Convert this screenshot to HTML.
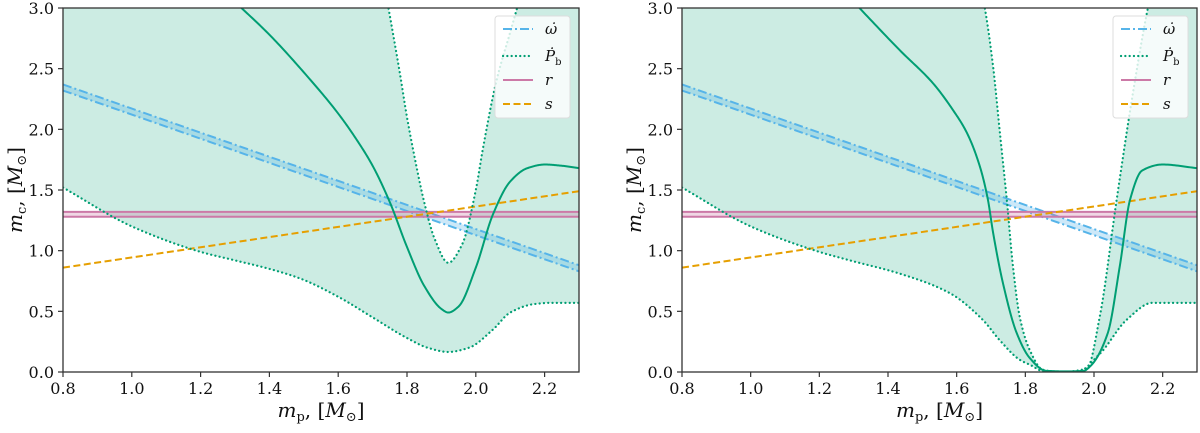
<!DOCTYPE html>
<html><head><meta charset="utf-8"><style>
html,body{margin:0;padding:0;background:#fff}
svg text{font-family:"DejaVu Serif","Liberation Serif",serif;fill:#111}
</style></head><body>
<svg id="chart" width="1200" height="428" xmlns="http://www.w3.org/2000/svg"></svg>
<script>
const xTicks=[0.8,1.0,1.2,1.4,1.6,1.8,2.0,2.2];
const yTicks=[0.0,0.5,1.0,1.5,2.0,2.5,3.0];
const omegaX=[0.8,2.3];
const omegaHi=[2.37,0.88];
const omegaLo=[2.32,0.83];
const rHi=1.32, rLo=1.28;
const sX=[0.8,2.3];
const sY=[0.86,1.49];
// left panel
const L_solidX=[1.30,1.4,1.5,1.6,1.65,1.7,1.75,1.8,1.85,1.9,1.92,1.95,2.0,2.05,2.1,2.15,2.2,2.25,2.3];
const L_solidY=[3.05,2.78,2.47,2.13,1.93,1.70,1.40,1.03,0.71,0.52,0.49,0.54,0.86,1.3,1.57,1.68,1.71,1.70,1.68];
const L_lowX=[0.8,1.0,1.2,1.3,1.4,1.49,1.6,1.7,1.8,1.86,1.92,1.98,2.05,2.1,2.17,2.22,2.3];
const L_lowY=[1.52,1.2,0.99,0.92,0.85,0.77,0.62,0.45,0.28,0.2,0.165,0.2,0.35,0.49,0.56,0.57,0.57];
const L_upX=[1.74,1.78,1.8,1.82,1.85,1.88,1.92,1.96,2.0,2.02,2.06,2.1,2.13];
const L_upY=[3.1,2.45,2.1,1.8,1.4,1.1,0.9,1.05,1.5,1.83,2.4,2.8,3.1];
// right panel
const R_solidX=[1.30,1.435,1.531,1.589,1.63,1.668,1.691,1.706,1.735,1.775,1.813,1.86,1.92,1.97,1.99,2.04,2.075,2.105,2.14,2.2,2.3];
const R_solidY=[3.05,2.65,2.38,2.16,1.97,1.69,1.42,1.15,0.73,0.32,0.115,0.01,0.005,0.01,0.05,0.32,0.87,1.42,1.66,1.71,1.68];
const R_lowX=[0.8,1.0,1.2,1.289,1.435,1.58,1.676,1.726,1.784,1.813,1.86,1.95,2.017,2.095,2.17,2.3];
const R_lowY=[1.52,1.2,0.99,0.92,0.81,0.65,0.43,0.26,0.1,0.06,0.0,0.0,0.15,0.43,0.57,0.57];
const R_upX=[1.675,1.682,1.706,1.726,1.746,1.764,1.784,1.813,1.85,1.9,1.98,2.017,2.066,2.11,2.157,2.165];
const R_upY=[3.1,3.0,2.52,1.97,1.42,0.87,0.45,0.18,0.02,0.0,0.03,0.46,1.42,2.24,3.0,3.1];

const NS="http://www.w3.org/2000/svg";
const svg=document.getElementById('chart');
function mk(tag,attrs,parent){const e=document.createElementNS(NS,tag);for(const k in attrs)e.setAttribute(k,attrs[k]);(parent||svg).appendChild(e);return e;}
function mono(xs,ys){
  const n=xs.length,d=[],m=new Array(n);
  for(let i=0;i<n-1;i++)d.push((ys[i+1]-ys[i])/(xs[i+1]-xs[i]));
  m[0]=d[0];m[n-1]=d[n-2];
  for(let i=1;i<n-1;i++){
    if(d[i-1]*d[i]<=0)m[i]=0;
    else{const w1=2*(xs[i+1]-xs[i])+(xs[i]-xs[i-1]),w2=(xs[i+1]-xs[i])+2*(xs[i]-xs[i-1]);m[i]=(w1+w2)/(w1/d[i-1]+w2/d[i]);}
  }
  const out=[];
  for(let i=0;i<n-1;i++){
    const h=xs[i+1]-xs[i];
    const steps=20;
    for(let s=(i?1:0);s<=steps;s++){
      const t=s/steps,t2=t*t,t3=t2*t;
      const y=(2*t3-3*t2+1)*ys[i]+(t3-2*t2+t)*h*m[i]+(-2*t3+3*t2)*ys[i+1]+(t3-t2)*h*m[i+1];
      out.push([xs[i]+t*h,y]);
    }
  }
  return out;
}
function pathOf(pts){return 'M'+pts.map(p=>p[0].toFixed(2)+','+p[1].toFixed(2)).join('L');}
function panel(id,x0,x1,solidX,solidY,lowX,lowY,upX,upY,legX){
  const y0=8,y1=372;
  const sx=v=>x0+(v-0.8)/1.5*(x1-x0);
  const sy=v=>y1-v/3*(y1-y0);
  const proj=(xs,ys)=>mono(xs,ys).map(p=>[sx(p[0]),sy(p[1])]);
  const g=mk('g',{});
  
  
  const cp=mk('clipPath',{id:id+'-clip'},g);
  mk('rect',{x:x0,y:y0,width:x1-x0,height:y1-y0},cp);
  const pg=mk('g',{'clip-path':'url(#'+id+'-clip)'},g);
  const lowPts=proj(lowX,lowY);
  const upPts=proj(upX,upY);
  let fd=pathOf(lowPts)+'L'+sx(2.3)+','+(y0-20)+'L'+sx(0.8)+','+(y0-20)+'Z';
  fd+=pathOf(upPts)+'L'+upPts[upPts.length-1][0]+','+(y0-20)+'L'+upPts[0][0]+','+(y0-20)+'Z';
  const fill=mk('path',{d:fd,fill:'#009E73','fill-opacity':0.2,'fill-rule':'evenodd'},pg);
  
  
  const ob=mk('path',{d:'M'+sx(omegaX[0])+','+sy(omegaHi[0])+'L'+sx(omegaX[1])+','+sy(omegaHi[1])+'L'+sx(omegaX[1])+','+sy(omegaLo[1])+'L'+sx(omegaX[0])+','+sy(omegaLo[0])+'Z',fill:'#56B4E9','fill-opacity':0.3},pg);
  
  
  [omegaHi,omegaLo].forEach((arr,k)=>{
    const l=mk('line',{x1:sx(omegaX[0]),y1:sy(arr[0]),x2:sx(omegaX[1]),y2:sy(arr[1]),stroke:'#56B4E9','stroke-width':2,'stroke-dasharray':'9 3 2 3'},pg);
    
    
  });
  const rb=mk('rect',{x:x0,y:sy(rHi),width:x1-x0,height:sy(rLo)-sy(rHi),fill:'#CC79A7','fill-opacity':0.3},pg);
  
  
  [rHi,rLo].forEach((v,k)=>{
    const l=mk('line',{x1:x0,y1:sy(v),x2:x1,y2:sy(v),stroke:'#CC79A7','stroke-width':2},pg);
    
    
  });
  const sl=mk('line',{x1:sx(sX[0]),y1:sy(sY[0]),x2:sx(sX[1]),y2:sy(sY[1]),stroke:'#E69F00','stroke-width':2,'stroke-dasharray':'7 3.5'},pg);
  
  
  const lb=mk('path',{d:pathOf(lowPts),fill:'none',stroke:'#009E73','stroke-width':2.2,'stroke-dasharray':'0.1 4.2','stroke-linecap':'round'},pg);
  
  
  const ub=mk('path',{d:pathOf(upPts),fill:'none',stroke:'#009E73','stroke-width':2.2,'stroke-dasharray':'0.1 4.2','stroke-linecap':'round'},pg);
  
  
  const so=mk('path',{d:pathOf(proj(solidX,solidY)),fill:'none',stroke:'#009E73','stroke-width':2},pg);
  
  
  const fr=mk('rect',{x:x0,y:y0,width:x1-x0,height:y1-y0,fill:'none',stroke:'#333','stroke-width':1.3},g);
  
  
  xTicks.forEach(v=>{
    mk('line',{x1:sx(v),y1:y1,x2:sx(v),y2:y1+5,stroke:'#333','stroke-width':1.2},g);
    const t=mk('text',{x:sx(v),y:y1+22,'text-anchor':'middle','font-size':16},g);
    t.textContent=v.toFixed(1);
    
    
  });
  yTicks.forEach(v=>{
    mk('line',{x1:x0-5,y1:sy(v),x2:x0,y2:sy(v),stroke:'#333','stroke-width':1.2},g);
    const t=mk('text',{x:x0-9,y:sy(v)+6,'text-anchor':'end','font-size':16},g);
    t.textContent=v.toFixed(1);
    
    
  });
  const xl=mk('text',{x:(x0+x1)/2,y:417,'text-anchor':'middle','font-size':20},g);
  xl.innerHTML='<tspan font-style="italic">m</tspan><tspan font-size="13" dy="4">p</tspan><tspan dy="-4">, [</tspan><tspan font-style="italic">M</tspan><tspan font-size="13" dy="4">⊙</tspan><tspan dy="-4">]</tspan>';
  
  
  const yl=mk('text',{x:0,y:0,'text-anchor':'middle','font-size':20,transform:'translate('+(x0-41)+',190) rotate(-90)'},g);
  yl.innerHTML='<tspan font-style="italic">m</tspan><tspan font-size="13" dy="4">c</tspan><tspan dy="-4">, [</tspan><tspan font-style="italic">M</tspan><tspan font-size="13" dy="4">⊙</tspan><tspan dy="-4">]</tspan>';
  
  
  const lg=mk('g',{},g);
  
  
  mk('rect',{x:legX,y:16,width:75,height:102,rx:3,fill:'#fff','fill-opacity':0.8,stroke:'#ddd'},lg);
  const items=[['#56B4E9','9 3 2 3','ω̇'],['#009E73','0.1 4.2','Ṗ'],['#CC79A7','none','r'],['#E69F00','7 3.5','s']];
  const rows=[29,56,80,104];
  items.forEach((it,i)=>{
    const e=mk('g',{},lg);
    
    
    const a={x1:legX+8,y1:rows[i],x2:legX+38,y2:rows[i],stroke:it[0],'stroke-width':2};
    if(it[1]!=='none')a['stroke-dasharray']=it[1];
    if(i===1){a['stroke-linecap']='round';a['stroke-width']=2.2;}
    mk('line',a,e);
    const t=mk('text',{x:legX+50,y:rows[i]+5,'font-size':15,'font-style':'italic'},e);
    if(i===1){t.innerHTML='Ṗ<tspan font-size="10" dy="4" font-style="normal">b</tspan>';}
    else t.textContent=it[2];
  });
}
panel('left',63,579,L_solidX,L_solidY,L_lowX,L_lowY,L_upX,L_upY,495);
panel('right',682,1197,R_solidX,R_solidY,R_lowX,R_lowY,R_upX,R_upY,1113);
</script>
</body></html>
